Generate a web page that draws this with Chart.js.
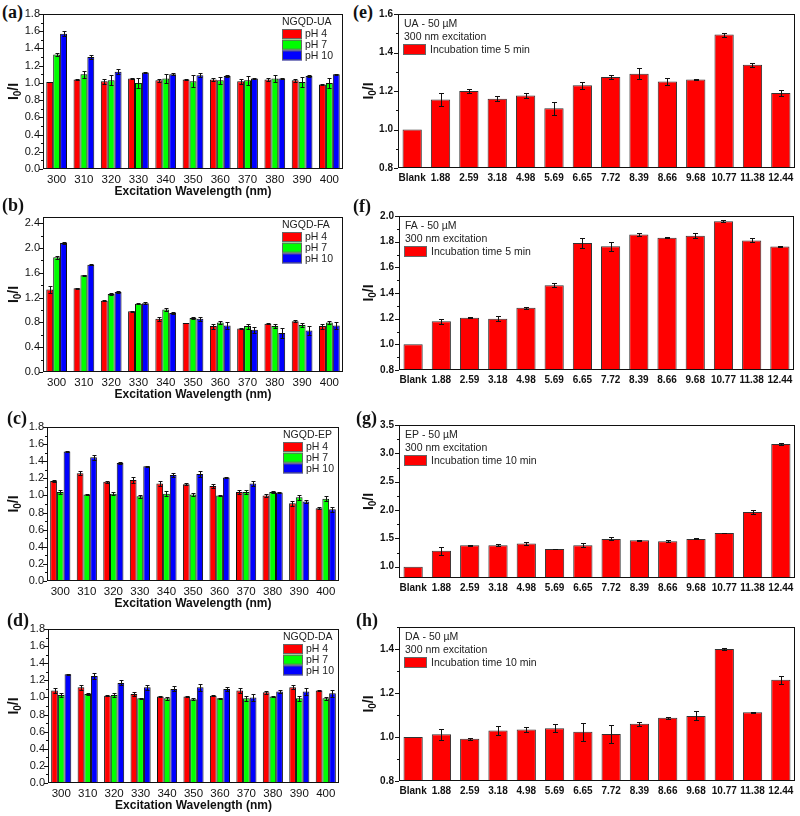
<!DOCTYPE html>
<html>
<head>
<meta charset="utf-8">
<script src="https://cdn.jsdelivr.net/npm/chart.js@4.4.0/dist/chart.umd.min.js"></script>
<style>
  body { margin: 0; width: 800px; height: 816px; position: relative; overflow: hidden; background: #fff; }
  canvas { position: absolute; }
  .tag { position: absolute; font: bold 18px "Liberation Serif", "Times New Roman", serif; line-height: 20px; color: #111; }
</style>
</head>
<body>
<script>
// left column: ratio vs excitation wavelength at three pH
const wavelengths = ['300', '310', '320', '330', '340', '350', '360', '370', '380', '390', '400'];
const phNames = ['pH 4', 'pH 7', 'pH 10'];
const phColors = ['#ff0000', '#00ff00', '#0000ff'];

const uaPh4 = [1.01, 1.04, 1.02, 1.05, 1.03, 1.04, 1.04, 1.02, 1.04, 1.03, 0.98];
const uaPh4Err = [0.005, 0.005, 0.03, 0.005, 0.02, 0.01, 0.02, 0.03, 0.02, 0.02, 0.01];
const uaPh7 = [1.33, 1.10, 1.03, 1.00, 1.05, 1.02, 1.03, 1.03, 1.05, 1.01, 1.00];
const uaPh7Err = [0.02, 0.04, 0.06, 0.06, 0.05, 0.07, 0.04, 0.05, 0.04, 0.06, 0.06];
const uaPh10 = [1.57, 1.30, 1.13, 1.12, 1.10, 1.09, 1.08, 1.05, 1.05, 1.08, 1.10];
const uaPh10Err = [0.03, 0.02, 0.03, 0.005, 0.01, 0.02, 0.01, 0.01, 0.005, 0.01, 0.005];

const faPh4 = [1.33, 1.35, 1.15, 0.98, 0.86, 0.79, 0.74, 0.70, 0.78, 0.82, 0.74];
const faPh4Err = [0.05, 0.005, 0.01, 0.005, 0.03, 0.005, 0.04, 0.01, 0.01, 0.02, 0.04];
const faPh7 = [1.85, 1.56, 1.26, 1.10, 1.01, 0.87, 0.80, 0.74, 0.74, 0.76, 0.80];
const faPh7Err = [0.02, 0.005, 0.02, 0.01, 0.03, 0.02, 0.02, 0.04, 0.03, 0.03, 0.02];
const faPh10 = [2.08, 1.73, 1.29, 1.11, 0.95, 0.86, 0.75, 0.68, 0.63, 0.67, 0.75];
const faPh10Err = [0.01, 0.01, 0.01, 0.02, 0.02, 0.03, 0.06, 0.05, 0.08, 0.08, 0.05];

const epPh4 = [1.17, 1.26, 1.16, 1.18, 1.14, 1.13, 1.11, 1.04, 1.00, 0.91, 0.85];
const epPh4Err = [0.01, 0.02, 0.01, 0.04, 0.03, 0.01, 0.02, 0.02, 0.02, 0.03, 0.01];
const epPh7 = [1.04, 1.01, 1.02, 0.99, 1.02, 1.01, 1.00, 1.04, 1.04, 0.98, 0.96];
const epPh7Err = [0.02, 0.01, 0.02, 0.02, 0.03, 0.02, 0.005, 0.02, 0.01, 0.03, 0.03];
const epPh10 = [1.515, 1.445, 1.38, 1.34, 1.24, 1.25, 1.21, 1.14, 1.035, 0.93, 0.84];
const epPh10Err = [0.01, 0.03, 0.01, 0.005, 0.02, 0.03, 0.01, 0.03, 0.005, 0.02, 0.03];

const daPh4 = [1.08, 1.12, 1.02, 1.04, 1.01, 1.01, 1.02, 1.08, 1.06, 1.12, 1.08];
const daPh4Err = [0.03, 0.03, 0.005, 0.02, 0.005, 0.01, 0.005, 0.03, 0.02, 0.02, 0.01];
const daPh7 = [1.03, 1.04, 1.03, 0.99, 0.99, 0.98, 0.99, 0.99, 1.01, 0.99, 0.99];
const daPh7Err = [0.02, 0.01, 0.02, 0.005, 0.02, 0.01, 0.005, 0.03, 0.01, 0.03, 0.02];
const daPh10 = [1.27, 1.25, 1.17, 1.12, 1.10, 1.12, 1.10, 1.00, 1.07, 1.07, 1.05];
const daPh10Err = [0.005, 0.03, 0.03, 0.03, 0.03, 0.04, 0.02, 0.04, 0.02, 0.04, 0.04];

// right column: ratio vs pH at 300 nm excitation
const phValues = ['Blank', '1.88', '2.59', '3.18', '4.98', '5.69', '6.65', '7.72', '8.39', '8.66', '9.68', '10.77', '11.38', '12.44'];

const uaTime = [1.00, 1.156, 1.20, 1.16, 1.177, 1.11, 1.23, 1.273, 1.29, 1.25, 1.26, 1.493, 1.336, 1.19];
const uaTimeErr = [0, 0.035, 0.012, 0.012, 0.015, 0.035, 0.018, 0.01, 0.03, 0.02, 0.003, 0.01, 0.01, 0.015];
const faTime = [1.00, 1.18, 1.207, 1.20, 1.285, 1.46, 1.79, 1.765, 1.855, 1.83, 1.847, 1.96, 1.81, 1.762];
const faTimeErr = [0, 0.02, 0.005, 0.02, 0.008, 0.015, 0.04, 0.035, 0.01, 0.003, 0.02, 0.008, 0.015, 0.003];
const epTime = [1.00, 1.28, 1.376, 1.38, 1.41, 1.31, 1.38, 1.49, 1.465, 1.45, 1.49, 1.594, 1.965, 3.165];
const epTimeErr = [0, 0.07, 0.01, 0.015, 0.02, 0.005, 0.03, 0.025, 0.01, 0.015, 0.01, 0.008, 0.03, 0.01];
const daTime = [1.00, 1.012, 0.992, 1.029, 1.034, 1.04, 1.024, 1.014, 1.06, 1.087, 1.096, 1.40, 1.113, 1.26];
const daTimeErr = [0, 0.025, 0.005, 0.022, 0.01, 0.018, 0.04, 0.042, 0.01, 0.003, 0.02, 0.006, 0.002, 0.018];

// y tick labels
const ticksLeft = [0, 0.2, 0.4, 0.6, 0.8, 1.0, 1.2, 1.4, 1.6, 1.8];
const ticksB = [0, 0.4, 0.8, 1.2, 1.6, 2.0, 2.4];
const ticksE = [0.8, 1.0, 1.2, 1.4, 1.6];
const ticksF = [0.8, 1.0, 1.2, 1.4, 1.6, 1.8, 2.0];
const ticksG = [1.0, 1.5, 2.0, 2.5, 3.0, 3.5];
const ticksH = [0.8, 1.0, 1.2, 1.4];

const panels = [
  { tag: '(a)', tagAt: [2, 2], side: 'left', area: [43, 343, 14, 169], name: 'NGQD-UA', legendX: 282,
    series: [[uaPh4, uaPh4Err], [uaPh7, uaPh7Err], [uaPh10, uaPh10Err]], y: [0, 1.8, 0, 0.1], ticks: ticksLeft },
  { tag: '(b)', tagAt: [2, 195], side: 'left', area: [43, 343, 217, 372], name: 'NGQD-FA', legendX: 282,
    series: [[faPh4, faPh4Err], [faPh7, faPh7Err], [faPh10, faPh10Err]], y: [0, 2.5, 0, 0.2], ticks: ticksB },
  { tag: '(c)', tagAt: [7, 408], side: 'left', area: [47, 339, 427, 581], name: 'NGQD-EP', legendX: 283,
    series: [[epPh4, epPh4Err], [epPh7, epPh7Err], [epPh10, epPh10Err]], y: [0, 1.8, 0, 0.1], ticks: ticksLeft },
  { tag: '(d)', tagAt: [7, 610], side: 'left', area: [48, 339, 629, 783], name: 'NGQD-DA', legendX: 283,
    series: [[daPh4, daPh4Err], [daPh7, daPh7Err], [daPh10, daPh10Err]], y: [0, 1.8, 0, 0.1], ticks: ticksLeft },
  { tag: '(e)', tagAt: [353, 2], side: 'right', area: [398, 795, 14, 168], name: 'UA - 50 µM', time: 'Incubation time 5 min',
    series: [[uaTime, uaTimeErr]], y: [0.8, 1.6, 0.8, 0.1], ticks: ticksE },
  { tag: '(f)', tagAt: [353, 196], side: 'right', area: [399, 794, 216, 370], name: 'FA - 50 µM', time: 'Incubation time 5 min',
    series: [[faTime, faTimeErr]], y: [0.8, 2.0, 0.8, 0.1], ticks: ticksF },
  { tag: '(g)', tagAt: [356, 408], side: 'right', area: [399, 795, 425, 578], name: 'EP - 50 µM', time: 'Incubation time 10 min',
    series: [[epTime, epTimeErr]], y: [0.8, 3.5, 1.0, 0.25], ticks: ticksG },
  { tag: '(h)', tagAt: [356, 610], side: 'right', area: [399, 795, 627, 781], name: 'DA - 50 µM', time: 'Incubation time 10 min',
    series: [[daTime, daTimeErr]], y: [0.8, 1.5, 0.8, 0.1], ticks: ticksH },
];

const sans = '"Liberation Sans", Arial, sans-serif';
const near = (a, b) => Math.abs(a - b) < 1e-6;

// frame, y tick marks and error bars
const decorPlugin = {
  id: 'decor',
  afterDatasetsDraw(chart, args, opts) {
    const { ctx, chartArea: a } = chart;
    const ys = chart.scales.y;
    ctx.save();
    ctx.strokeStyle = '#111';
    ctx.lineWidth = 1;
    chart.data.datasets.forEach((ds, i) => {
      const meta = chart.getDatasetMeta(i);
      meta.data.forEach((bar, j) => {
        const e = ds.err[j];
        if (!e) return;
        const v = ds.data[j];
        const t = Math.round(ys.getPixelForValue(v + e)) + 0.5;
        const b = Math.round(ys.getPixelForValue(v - e)) + 0.5;
        const x = Math.round(bar.x) + 0.5;
        ctx.beginPath();
        ctx.moveTo(x, t); ctx.lineTo(x, b);
        ctx.moveTo(x - opts.cap, t); ctx.lineTo(x + opts.cap, t);
        ctx.moveTo(x - opts.cap, b); ctx.lineTo(x + opts.cap, b);
        ctx.stroke();
      });
    });
    ctx.strokeRect(a.left + 0.5, a.top + 0.5, a.right - a.left - 1, a.bottom - a.top - 1);
    ys.ticks.forEach(tk => {
      const y = Math.round(ys.getPixelForValue(tk.value)) + 0.5;
      const len = opts.majors.some(m => near(m, tk.value)) ? 4 : 2;
      ctx.beginPath();
      ctx.moveTo(a.left - len, y); ctx.lineTo(a.left, y);
      ctx.stroke();
    });
    ctx.restore();
  }
};

// legend drawn inside the plot
const legendPlugin = {
  id: 'innerLegend',
  afterDraw(chart, args, opts) {
    const { ctx, chartArea: a } = chart;
    ctx.save();
    ctx.fillStyle = '#222';
    ctx.textBaseline = 'middle';
    ctx.strokeStyle = '#666';
    ctx.lineWidth = 1;
    if (opts.side === 'left') {
      const x = opts.x;
      ctx.font = '10.5px ' + sans;
      ctx.fillText(opts.name, x, a.top + 8);
      chart.data.datasets.forEach((ds, i) => {
        const y = a.top + 15 + i * 10.7;
        ctx.fillStyle = ds.backgroundColor;
        ctx.fillRect(x, y, 20, 10);
        ctx.strokeRect(x + 0.5, y + 0.5, 19, 9);
        ctx.fillStyle = '#222';
        ctx.fillText(ds.label, x + 23, y + 5.5);
      });
    } else {
      const x = a.left + 6;
      ctx.font = '10.5px ' + sans;
      ctx.fillText(opts.name, x, a.top + 10);
      ctx.fillText('300 nm excitation', x, a.top + 23);
      ctx.fillStyle = '#ff0000';
      ctx.fillRect(x - 1, a.top + 30, 23, 11);
      ctx.strokeRect(x - 0.5, a.top + 30.5, 22, 10);
      ctx.fillStyle = '#222';
      ctx.fillText(opts.time, x + 26, a.top + 36);
    }
    ctx.restore();
  }
};

// axis titles, with subscript on the y title
const titlePlugin = {
  id: 'axisTitles',
  afterDraw(chart, args, opts) {
    const { ctx, chartArea: a } = chart;
    ctx.save();
    ctx.fillStyle = '#111';
    ctx.textBaseline = 'middle';
    const big = 'bold 14px ' + sans, small = 'bold 10px ' + sans;
    ctx.font = big; const w1 = ctx.measureText('I').width; const w3 = ctx.measureText('/I').width;
    ctx.font = small; const w2 = ctx.measureText('0').width;
    const total = w1 + w2 + w3;
    ctx.translate(opts.yTitleX, (a.top + a.bottom) / 2);
    ctx.rotate(-Math.PI / 2);
    let sx = -total / 2;
    ctx.font = big; ctx.fillText('I', sx, 0); sx += w1;
    ctx.font = small; ctx.fillText('0', sx, 4); sx += w2;
    ctx.font = big; ctx.fillText('/I', sx, 0);
    ctx.restore();
    if (opts.xTitle) {
      ctx.save();
      ctx.fillStyle = '#111';
      ctx.font = 'bold 12px ' + sans;
      ctx.textAlign = 'center';
      ctx.textBaseline = 'middle';
      ctx.fillText(opts.xTitle, (a.left + a.right) / 2, a.bottom + 23);
      ctx.restore();
    }
  }
};

function makePanel(p) {
  const left = p.side === 'left';
  const [aL, aR, aT, aB] = p.area;
  const cLeft = left ? 0 : 355;
  const cTop = aT - 10;
  const cRight = left ? aR + 8 : 800;
  const cBottom = aB + (left ? 34 : 18);

  const tag = document.createElement('div');
  tag.className = 'tag';
  tag.textContent = p.tag;
  tag.style.left = p.tagAt[0] + 'px';
  tag.style.top = p.tagAt[1] + 'px';
  document.body.appendChild(tag);

  const canvas = document.createElement('canvas');
  canvas.width = cRight - cLeft;
  canvas.height = cBottom - cTop;
  canvas.style.left = cLeft + 'px';
  canvas.style.top = cTop + 'px';
  document.body.appendChild(canvas);

  const datasets = p.series.map(([vals, errs], i) => ({
    label: left ? phNames[i] : p.time,
    data: vals,
    err: errs,
    backgroundColor: left ? phColors[i] : '#ff0000',
    borderColor: left ? '#111' : '#333',
    borderWidth: 1,
    borderSkipped: 'bottom',
    barPercentage: left ? 1 : 0.68,
    categoryPercentage: left ? 0.76 : 1
  }));

  const xFont = left ? { family: sans, size: 11.5 } : { family: sans, size: 10, weight: 'bold' };
  const yFont = left ? { family: sans, size: 11 } : { family: sans, size: 10, weight: 'bold' };

  new Chart(canvas, {
    type: 'bar',
    data: { labels: left ? wavelengths : phValues, datasets },
    options: {
      responsive: false,
      animation: false,
      layout: { padding: { top: aT - cTop, right: cRight - aR, left: 0, bottom: 0 } },
      plugins: {
        legend: { display: false },
        tooltip: { enabled: false },
        decor: { cap: left ? 2 : 2.5, majors: p.ticks },
        innerLegend: { side: p.side, name: p.name, x: p.legendX - cLeft, time: p.time },
        axisTitles: { yTitleX: 14, xTitle: left ? 'Excitation Wavelength (nm)' : null }
      },
      scales: {
        x: {
          grid: { display: false, drawTicks: false },
          border: { display: false },
          ticks: { color: '#111', font: xFont, padding: 4, autoSkip: false, maxRotation: 0, minRotation: 0 },
          afterFit(s) { s.height = cBottom - aB; s.paddingLeft = 0; s.paddingRight = 0; }
        },
        y: {
          min: p.y[0],
          max: p.y[1],
          grid: { display: false, drawTicks: false },
          border: { display: false },
          ticks: {
            color: '#111',
            font: yFont,
            padding: left ? 3 : 5,
            autoSkip: false,
            callback: v => p.ticks.some(m => near(m, v)) ? v.toFixed(1) : ''
          },
          afterBuildTicks(s) {
            const t = [];
            for (let v = p.y[2]; v <= p.y[1] + 1e-6; v += p.y[3]) t.push({ value: +v.toFixed(4) });
            s.ticks = t;
          },
          afterFit(s) { s.width = aL - cLeft; s.paddingTop = 0; s.paddingBottom = 0; }
        }
      }
    },
    plugins: [decorPlugin, legendPlugin, titlePlugin]
  });
}

panels.forEach(makePanel);
</script>
</body>
</html>
